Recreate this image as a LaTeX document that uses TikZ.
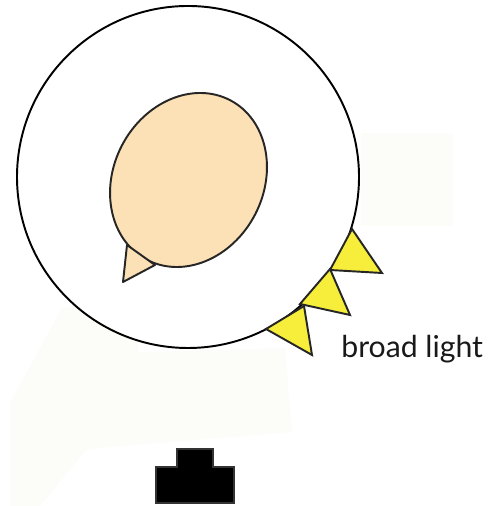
\documentclass[tikz,border=0pt]{standalone}
\usepackage{fontspec}
\setsansfont{Lato}
\usepackage{tikz}
\usetikzlibrary{positioning}
\definecolor{skinpeach}{RGB}{252,224,182}
\definecolor{lampyellow}{RGB}{246,238,58}
\definecolor{faintbg}{RGB}{252,252,249}
\tikzset{
  ring/.style   ={draw=black, fill=white, line width=1.1pt},
  face/.style   ={draw=black!85, fill=skinpeach, line width=1.1pt, line join=round},
  lamp/.style   ={draw=black!85, fill=lampyellow, line width=1.1pt, line join=miter},
  camera/.style ={fill=black, draw=black!80, line width=0.6pt},
  faint/.style  ={fill=faintbg, draw=none},
  lbl/.style    ={font=\sffamily\fontsize{17.2}{19}\selectfont, inner sep=0pt, text=black!90},
}
\begin{document}
\begin{tikzpicture}[x=0.02cm, y=0.02cm]
  \useasboundingbox (0,0) rectangle (493,506);
  % faint backdrop patches
  \fill[faint] (10,0) -- (10,103) -- (62,198) -- (140,206) -- (138,154) -- (285,158)
    -- (292,74) -- (87,57) -- (40,0) -- cycle;
  \fill[faint] (361,280) rectangle (453,373);
  % head seen from above
  \draw[ring] (188,329) circle (171);
  \draw[face] (188.5,326) ellipse [x radius=75, y radius=90, rotate=-27.6];
  \draw[face] (127,261) -- (123,224) -- (155,241) -- cycle;
  % light sources
  \draw[lamp] (352,277) -- (382,233) -- (330,236) -- cycle;
  \draw[lamp] (330,237) -- (350,191) -- (300,202) -- cycle;
  \draw[lamp] (304,200) -- (312,151) -- (266,177) -- cycle;
  \node[lbl, anchor=base west] (broad) at (341,148) {broad light};
  % camera
  \draw[camera] (156,3) -- (234,3) -- (234,39) -- (213,39) -- (213,57) -- (177,57)
    -- (177,39) -- (156,39) -- cycle;
\end{tikzpicture}
\end{document}
